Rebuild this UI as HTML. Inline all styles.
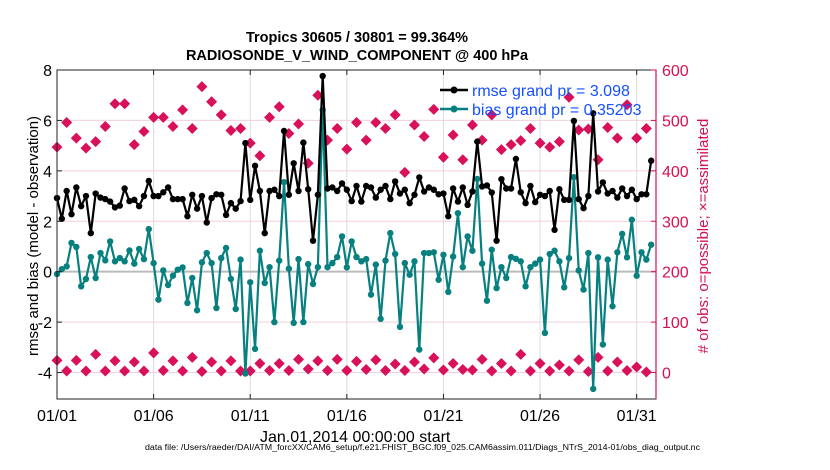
<!DOCTYPE html>
<html><head><meta charset="utf-8"><style>
body{margin:0;background:#fff;}
svg{display:block;font-family:"Liberation Sans",sans-serif;}
</style></head><body>
<svg id="chart" width="830" height="470" viewBox="0 0 830 470">
<text x="357" y="42" text-anchor="middle" font-size="14.5" font-weight="bold">Tropics 30605 / 30801 = 99.364%</text>
<text x="357" y="60" text-anchor="middle" font-size="14.5" font-weight="bold">RADIOSONDE_V_WIND_COMPONENT @ 400 hPa</text>
<g id="grid"></g>
<g id="marks"></g>
<g id="axes"></g>
<text transform="translate(38,236) rotate(-90)" text-anchor="middle" font-size="15">rmse and bias (model - observation)</text>
<text transform="translate(708,236) rotate(-90)" text-anchor="middle" font-size="15" fill="#d6104f"># of obs: o=possible; ×=assimilated</text>
<text x="260" y="442" font-size="16">Jan.01,2014 00:00:00 start</text>
<text x="145" y="450" font-size="8" textLength="555" lengthAdjust="spacingAndGlyphs">data file: /Users/raeder/DAI/ATM_forcXX/CAM6_setup/f.e21.FHIST_BGC.f09_025.CAM6assim.011/Diags_NTrS_2014-01/obs_diag_output.nc</text>
<g>
<line x1="440" y1="90" x2="468" y2="90" stroke="#000" stroke-width="2.5"/>
<circle cx="454" cy="90" r="3.5" fill="#000"/>
<text x="472" y="96" font-size="16" fill="#1450ff">rmse grand pr = 3.098</text>
<line x1="440" y1="109" x2="468" y2="109" stroke="#088080" stroke-width="2.5"/>
<circle cx="454" cy="109" r="3.5" fill="#088080"/>
<text x="472" y="115" font-size="16" fill="#1450ff">bias grand pr = 0.35203</text>
</g>
</svg>
<script>
const rmse=[2.92,2.1,3.2,2.28,3.34,2.6,3.0,1.53,3.1,2.94,2.88,2.78,2.55,2.62,3.3,2.8,2.85,2.6,3.0,3.6,3.0,3.0,3.15,3.34,2.88,2.88,2.88,2.2,3.05,2.5,3.0,1.95,2.92,3.07,3.05,2.25,2.72,2.5,2.8,5.1,2.85,4.2,3.2,1.53,3.2,3.25,3.0,5.58,3.05,4.3,3.2,5.12,3.27,1.23,3.05,7.76,3.3,3.34,3.2,3.5,3.25,2.8,3.4,2.78,3.4,3.34,2.94,3.25,3.4,2.88,3.58,3.1,3.25,2.72,3.05,3.74,3.18,3.34,3.25,3.07,3.1,2.2,3.3,2.78,3.34,2.65,3.18,5.16,3.38,3.42,3.14,1.23,3.67,3.3,3.3,4.47,3.15,2.72,3.4,2.76,3.05,3.0,3.2,1.66,3.27,2.85,2.85,5.98,2.88,2.52,3.0,6.28,3.18,3.54,3.1,3.2,2.94,3.3,3.0,3.25,2.88,3.07,3.07,4.4];
const bias=[-0.09,0.1,0.21,1.14,0.98,-0.58,-0.29,0.58,-0.25,0.74,0.45,1.2,0.41,0.54,0.41,0.84,0.32,0.9,0.5,1.69,0.34,-1.11,0.05,-0.53,-0.16,0.08,0.17,-1.24,-0.25,-1.53,0.37,0.74,0.34,-1.44,0.54,0.94,-0.29,-1.48,0.48,-4.04,-0.42,-3.06,0.83,-0.45,0.18,-2.0,0.44,3.55,0.12,-2.03,0.5,-2.0,0.3,-0.49,0.18,6.42,0.18,0.34,0.58,1.4,0.17,1.2,0.58,0.41,0.5,-0.91,0.28,-1.87,0.44,1.53,0.7,-2.19,0.34,-0.12,0.41,-3.09,0.74,0.74,0.77,-0.32,0.67,-0.8,0.6,2.32,0.18,1.4,0.83,3.68,0.32,-1.15,0.87,-0.65,0.18,-0.25,0.58,0.51,0.41,-0.58,0.18,0.32,0.48,-2.43,0.7,0.83,0.41,-0.62,0.54,3.75,0.05,-0.71,0.74,-4.65,0.57,-2.89,0.48,-1.37,0.77,1.5,0.57,2.06,-0.16,0.77,0.48,1.07];
const nPossible=[447,496,465,445,458,488,533,533,452,478,506,506,488,521,484,567,537,511,480,484,455,430,506,527,474,493,415,550,461,484,443,496,461,496,484,511,397,491,468,522,427,471,422,491,461,511,442,452,460,484,455,447,458,546,481,483,422,486,465,531,465,484];
const nAssim=[24,3,24,3,36,3,23,3,21,3,39,4,23,3,30,2,21,3,23,3,3,18,4,18,4,26,7,23,4,26,4,22,6,25,4,17,4,21,7,29,5,18,6,5,26,3,18,3,36,3,18,3,15,3,25,2,30,3,21,4,11,1];
const xTicks=["01/01","01/06","01/11","01/16","01/21","01/26","01/31"];
const yTicks=[-4,-2,0,2,4,6,8];
const rTicks=[0,100,200,300,400,500,600];

const NS="http://www.w3.org/2000/svg";
const X0=57,X1=656,Y0=399,Y1=70,DMIN=0,DMAX=31,VMIN=-5.05,VMAX=8;
const xs=d=>X0+(d-DMIN)/(DMAX-DMIN)*(X1-X0);
const ys=v=>Y0-(v-VMIN)/(VMAX-VMIN)*(Y0-Y1);
const yr=r=>ys(r/50-4);
function mk(tag,attrs,parent){const e=document.createElementNS(NS,tag);for(const k in attrs)e.setAttribute(k,attrs[k]);parent.appendChild(e);return e;}
const grid=document.getElementById('grid'),marks=document.getElementById('marks'),axes=document.getElementById('axes');
xTicks.forEach((t,i)=>{const x=xs(i*5);const l=mk('line',{x1:x,x2:x,y1:Y1,y2:Y0,stroke:'#dcdcdc','stroke-width':1},grid);

});
rTicks.forEach(r=>{const y=yr(r);const l=mk('line',{x1:X0,x2:X1,y1:y,y2:y,stroke:'#f0d0dc','stroke-width':1},grid);

});
const z=mk('line',{x1:X0,x2:X1,y1:ys(0),y2:ys(0),stroke:'#bbb','stroke-width':2},grid);


function countMarker(v,name){const x=xs(v.i*0.5),y=yr(v.r);const g=mk('g',{},marks);


mk('path',{d:`M${x-5.5} ${y}L${x} ${y-5.5}L${x+5.5} ${y}L${x} ${y+5.5}Z`,fill:'#d9105a'},g);
mk('rect',{x:x-4,y:y-1.5,width:8,height:3,fill:'#d9105a'},g);
mk('rect',{x:x-1.5,y:y-4,width:3,height:8,fill:'#d9105a'},g);}
nPossible.forEach((r,i)=>countMarker({i,r},'possible-count-marker'));
nAssim.forEach((r,i)=>countMarker({i,r},'assimilated-count-marker'));
function series(vals,color,name){const pts=vals.map((v,i)=>[xs(i*0.25),ys(v)]);
const p=mk('polyline',{points:pts.map(p=>p.join(',')).join(' '),fill:'none',stroke:color,'stroke-width':2.2,'stroke-linejoin':'round'},marks);


pts.forEach(q=>{const c=mk('circle',{cx:q[0],cy:q[1],r:3.2,fill:color},marks);

});}
series(bias,'#088080','bias');
series(rmse,'#000000','rmse');
mk('rect',{x:X0,y:Y1,width:X1-X0,height:Y0-Y1,fill:'none',stroke:'#222','stroke-width':1},axes);
mk('line',{x1:X1,x2:X1,y1:Y1,y2:Y0,stroke:'#d6104f','stroke-width':1.2},axes);
xTicks.forEach((t,i)=>{const x=xs(i*5);mk('line',{x1:x,x2:x,y1:Y0,y2:Y0-5,stroke:'#222'},axes);mk('line',{x1:x,x2:x,y1:Y1,y2:Y1+5,stroke:'#222'},axes);
const tx=mk('text',{x:x,y:421,'text-anchor':'middle','font-size':16},axes);tx.textContent=t;

});
yTicks.forEach(v=>{const y=ys(v);mk('line',{x1:X0,x2:X0+5,y1:y,y2:y,stroke:'#222'},axes);
const tx=mk('text',{x:52,y:y+6,'text-anchor':'end','font-size':16},axes);tx.textContent=v;

});
rTicks.forEach(r=>{const y=yr(r);mk('line',{x1:X1-5,x2:X1,y1:y,y2:y,stroke:'#d6104f'},axes);
const tx=mk('text',{x:662,y:y+6,'font-size':16,fill:'#d6104f'},axes);tx.textContent=r;

});
</script>
</body></html>
